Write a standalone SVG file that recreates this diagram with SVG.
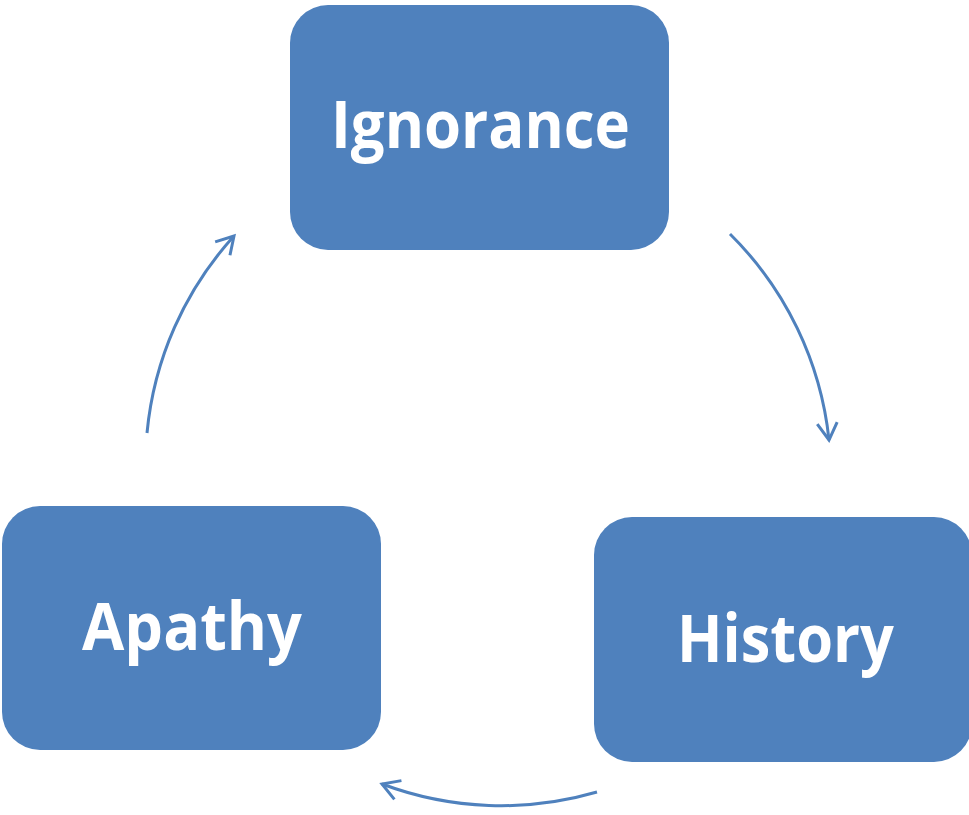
<svg xmlns="http://www.w3.org/2000/svg" width="969" height="815" viewBox="0 0 969 815">
  <style>
    .box { fill: #4F81BD; stroke: none; }
    .lbl { fill: #FFFFFF; font-family: "Open Sans", "Liberation Sans", sans-serif; font-weight: bold; font-size: 67px; text-anchor: middle; }
    .conn { fill: none; stroke: #4F81BD; stroke-width: 3; }
  </style>
  <defs>
    <marker id="arrow" markerUnits="userSpaceOnUse" markerWidth="40" markerHeight="40" viewBox="-20 -20 40 40" refX="0" refY="0" orient="auto" overflow="visible">
      <path d="M-17,-10 L0,0 L-17,10" fill="none" stroke="#4F81BD" stroke-width="3"/>
    </marker>
  </defs>
  <rect width="969" height="815" fill="#FFFFFF"/>
  <g id="connectors">
    <path class="conn" d="M730,234 A340,340 0 0 1 829,440" marker-end="url(#arrow)"/>
    <path class="conn" d="M597,792 A340,340 0 0 1 382,784" marker-end="url(#arrow)"/>
    <path class="conn" d="M147,433 A340,340 0 0 1 234,236" marker-end="url(#arrow)"/>
  </g>
  <g id="node-ignorance">
    <rect class="box" x="290" y="5" width="379" height="245" rx="38" ry="38"/>
    <text class="lbl" x="480.5" y="148" textLength="299" lengthAdjust="spacingAndGlyphs">Ignorance</text>
  </g>
  <g id="node-history">
    <rect class="box" x="594" y="517" width="378" height="245" rx="38" ry="38"/>
    <text class="lbl" x="785.5" y="662" textLength="217" lengthAdjust="spacingAndGlyphs">History</text>
  </g>
  <g id="node-apathy">
    <rect class="box" x="2" y="506" width="379" height="244" rx="38" ry="38"/>
    <text class="lbl" x="192" y="650" textLength="220" lengthAdjust="spacingAndGlyphs">Apathy</text>
  </g>
</svg>
